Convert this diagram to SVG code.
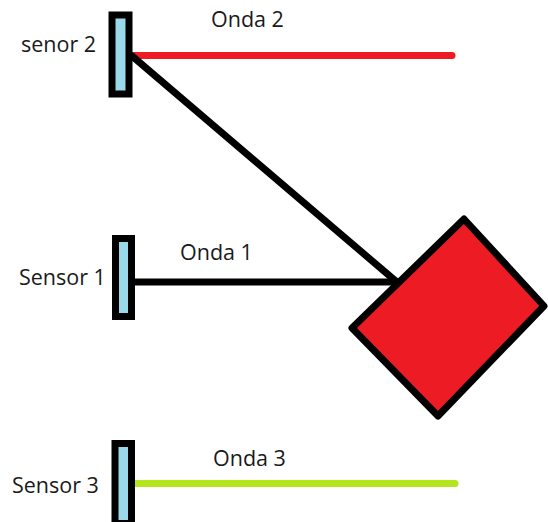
<svg xmlns="http://www.w3.org/2000/svg" width="548" height="522" viewBox="0 0 548 522">
  <style>
    .label { font-family: "Open Sans", "Noto Sans", "DejaVu Sans", sans-serif; font-size: 21.5px; fill: #1a1a1a; }
    .sensor { fill: #99d9ea; stroke: #000; stroke-width: 7; }
    .wave { fill: none; stroke-width: 7; stroke-linecap: round; }
  </style>
  <rect width="548" height="522" fill="#fff"/>

  <g id="connectors">
    <line class="wave" x1="132" y1="55.5" x2="452" y2="55.5" stroke="#ed1c24"/>
    <line class="wave" x1="132" y1="56" x2="398" y2="283" stroke="#000"/>
    <line class="wave" x1="132" y1="282" x2="398" y2="282" stroke="#000"/>
    <line class="wave" x1="133" y1="483.5" x2="455" y2="483.5" stroke="#b5e61d"/>
  </g>

  <g id="target">
    <polygon points="464,219 544,306 438,416 352,328" fill="#ed1c24" stroke="#000" stroke-width="7" stroke-linejoin="round"/>
  </g>

  <g id="sensor2">
    <rect class="sensor" x="112" y="15" width="17" height="79"/>
    <text class="label" x="21" y="52">senor 2</text>
  </g>
  <g id="sensor1">
    <rect class="sensor" x="115.5" y="238.5" width="16" height="78"/>
    <text class="label" x="19" y="285">Sensor 1</text>
  </g>
  <g id="sensor3">
    <rect class="sensor" x="115" y="443.5" width="16.5" height="80"/>
    <text class="label" x="12" y="493">Sensor 3</text>
  </g>

  <g id="wave-labels">
    <text class="label" x="211" y="27">Onda 2</text>
    <text class="label" x="180" y="260">Onda 1</text>
    <text class="label" x="213" y="466">Onda 3</text>
  </g>
</svg>
